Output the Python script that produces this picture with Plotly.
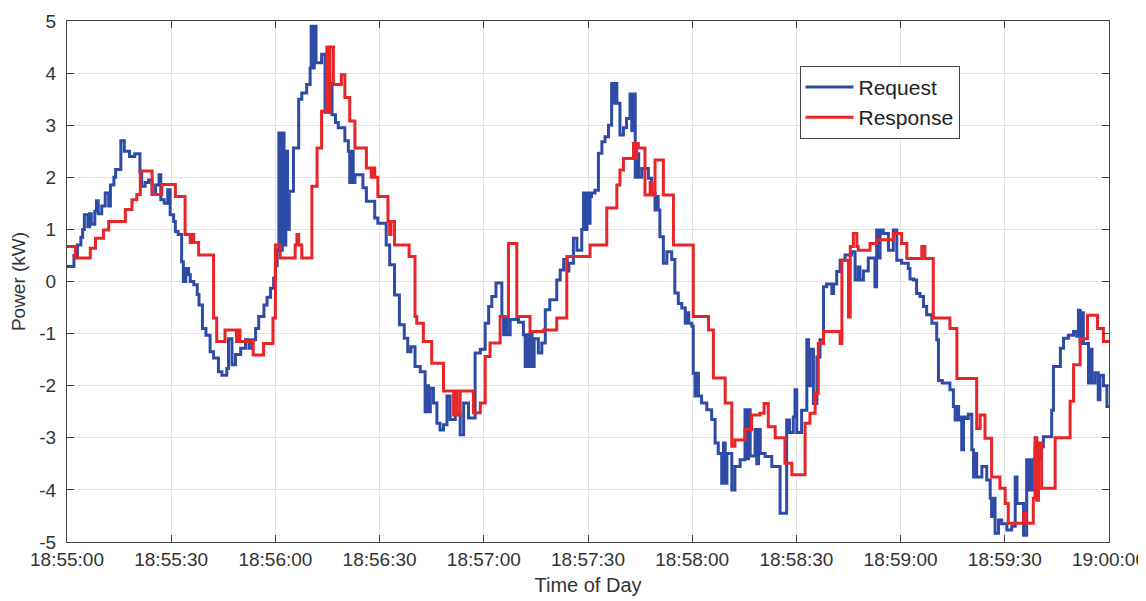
import pandas as pd
import plotly.graph_objects as go

# seconds after 18:55:00 and power (kW), step series
request_t = [0, 2, 3, 4, 4.5, 5, 6, 6.5, 7, 8, 8.5, 9, 10, 11, 12, 12.5, 13.5, 14, 15.5, 16.5, 18, 19.5,
             21, 21.5, 22.5, 23.5, 24.5, 25.5, 26.5, 27, 28, 29, 29.7, 30.7, 31.2, 32, 33, 33.5, 34.2, 35,
             35.5, 36.5, 37.5, 38, 39, 40, 41.2, 42.2, 43.6, 44.6, 46, 46.5, 47.5, 48.5,
             50, 51.4, 52.4, 53.3, 54.3, 55.2, 56.7, 57.6, 58.6, 59.5, 60, 60.5, 61, 61.5, 62, 62.5, 63,
             63.5, 64, 65.2, 66.7, 67.6, 69, 70, 70.3, 70.8, 71.2, 71.7, 73.3, 74.3, 74.8, 75.3, 75.8,
             76.3, 77.3, 78.1, 80, 81, 81.4, 81.9, 82.4, 82.9, 85.2, 86.2, 88.6, 89.5, 91.9, 92.9, 94.3,
             95.7, 97.1, 98.1,
             99, 100.2, 101.7, 103.1, 103.6, 104.1, 104.6, 105.5, 106.5, 107.4, 108.4, 109.4, 110.3,
             111.8, 113.2, 114.2, 115.6, 117.5, 119, 120.4, 121.4, 122.3, 123.5, 125.2, 125.7, 126.2,
             126.7, 127.6, 130, 131.4, 131.9, 132.4, 132.9, 133.4, 133.9, 134.5, 135.7, 136.7, 137.7,
             139, 141, 142, 143, 144, 144.5, 145.8, 146.8, 148.2, 148.7, 149.2, 149.7, 150.2, 150.6,
             151, 152, 153, 154, 154.9, 155.9, 156.8, 157.3, 157.8, 158.3, 159.2, 160.2, 161.1, 162.1,
             162.6, 163.1, 163.6, 164.1, 164.6, 165.5, 167.4, 168.3, 169.3, 169.8, 170.2, 170.7, 171.7,
             172.7, 174.1, 175, 176, 177, 178, 178.5, 179, 179.9, 180.3, 180.8, 181.3, 181.8, 182.7,
             184.2, 185.6, 186.6, 187.5, 188.5, 189, 189.5, 190, 191.4, 192.3, 193.8, 195.2, 195.7,
             196.2, 196.7, 198.1, 198.6, 199.1, 199.6,
             201, 202.9, 205.3, 207.2, 208, 209.1, 209.6, 210.1, 211.5, 213, 213.5, 214, 214.9, 215.9,
             216.8, 217.8, 218.7, 220.2, 220.7, 221.6, 222.6, 224, 225.9, 226.9, 227.8, 228.3, 229.3,
             230.7, 232.6, 233.1, 233.6, 234.1, 235, 236.5, 237.9, 238.9, 240.3, 242.2, 242.7, 243.7,
             244.6, 245.6, 246.6, 247.5, 249, 250.4, 250.9,
             252, 254.2, 255.2, 255.7, 256.2, 256.7, 257.1, 257.6, 258.1, 258.6, 259.5, 260.5, 261,
             261.4, 261.9, 263.4, 264.8, 265.8, 266.2, 266.7, 267.2, 268.2, 269.1, 270.6, 272, 273,
             273.5, 274.4, 275.4, 276.3, 276.8, 277.3, 277.8, 278.7, 279.7, 280.2, 281.1, 283.5, 284,
             286, 286.9, 288.3, 289.8, 290.7, 291.2, 291.7, 292.2, 292.6, 294.1, 294.6, 295.1, 296,
             296.9, 297.4, 298.4, 299.4, 300]
request_kw = [0.29, 0.5, 0.7, 0.85, 1.0, 1.28, 1.05, 1.3, 1.1, 1.35, 1.55, 1.3, 1.45, 1.7, 1.45, 1.85, 2.0,
              2.15, 2.7, 2.5, 2.4, 2.45, 2.1, 1.83, 1.9, 1.95, 1.67, 1.85, 2.05, 1.57, 1.5, 1.76, 1.28,
              1.15, 0.96, 0.9, 0.38, 0.0, 0.25, 0.13, 0.0, -0.06, -0.25, -0.45, -0.9, -1.03, -1.35, -1.47,
              -1.73, -1.8, -1.67, -1.1, -1.6, -1.4,
              -1.28, -1.12, -1.28, -1.12, -0.9, -0.67, -0.45, -0.3, -0.13, 0.06, 0.3, 0.6, 2.85, 0.6, 2.85,
              0.7, 2.5, 1.0, 1.73, 2.56, 3.5, 3.62, 3.78, 4.1, 4.9, 4.1, 4.9, 4.2, 4.36, 3.25, 3.8, 3.25,
              3.8, 3.2, 3.05, 2.95, 2.7, 2.5, 1.9, 2.5, 1.9, 2.05, 1.8, 1.54, 1.22, 1.12, 0.7, 0.32, -0.26,
              -0.83, -1.09, -1.35,
              -1.25, -1.63, -1.73, -2.5, -2.0, -2.5, -2.05, -2.33, -2.72, -2.85, -2.75, -2.2, -2.65, -2.52,
              -2.94, -2.33, -2.62, -1.37, -1.3, -0.8, -0.48, -0.29, -0.03, -0.67, -1.02, -0.67, -1.02,
              -0.73, -0.78, -1.02, -1.63, -1.02, -1.63, -1.0, -1.63, -1.1, -1.37, -1.18, -0.54, -0.35,
              0.03, 0.22, 0.42, 0.2, 0.35, 0.83, 0.6, 1.0, 1.7, 1.0, 1.7, 1.12, 1.63,
              1.7, 1.75, 2.46, 2.68, 2.78, 3.0, 3.8, 3.42, 3.8, 3.42, 2.81, 2.95, 3.13, 3.6, 2.9, 3.6, 2.0,
              2.45, 2.0, 2.17, 1.98, 1.7, 1.37, 1.63, 1.37, 0.86, 0.35, 0.57, 0.42, -0.22, -0.42, -0.51,
              -0.8, -0.6, -0.8, -0.86, -1.76, -2.2, -1.76, -2.2, -2.33, -2.46, -2.65, -3.1, -3.3, -3.87,
              -3.1, -3.87, -3.3, -4.0, -3.55, -3.42, -2.46, -3.4, -2.46, -3.35, -2.84, -3.5, -2.84, -3.3,
              -3.36, -3.55, -4.45, -2.66, -2.9, -2.6, -2.08, -2.9, -2.47, -1.12, -2.0, -1.3, -2.34, -1.45,
              -1.12, -0.1, -0.05, -0.23, -0.05, 0.19, 0.41, 0.51, 0.57, 0.03, 0.28, 0.03, 0.2, 0.45, -0.1,
              0.99, 0.45, 0.99, 0.92, 0.6, 0.99, 0.41, 0.35, 0.25, 0.05, 0.03, -0.23, -0.29, -0.48, -0.64,
              -0.8, -1.12, -1.9,
              -1.95, -2.08, -2.4, -2.66, -2.4, -2.66, -2.6, -3.23, -2.6, -2.63, -2.55, -3.23, -3.75, -3.3,
              -3.75, -3.55, -3.81, -4.16, -4.51, -4.16, -4.83, -4.58, -4.65, -4.77, -4.7, -3.75, -4.26,
              -4.26, -4.87, -3.42, -4.0, -3.42, -4.0, -3.17, -3.4, -3.17, -2.98, -2.47, -1.63, -1.28,
              -1.09, -1.03, -0.96, -1.05, -0.55, -1.19, -0.6, -1.19, -1.95, -1.3, -1.95, -1.75, -2.27,
              -1.8, -2.0, -2.4, -2.4]

response_t = [0, 2.4, 6.7, 8.2, 10.5, 12, 16.8, 18.7, 20.1, 21.1, 24.5, 27.3, 31.2, 34.0, 35.5, 36, 36.5,
              37.9, 42.2, 43.1, 45.5, 48.8, 49.3, 49.8, 53.6, 56.6, 59.3, 60, 61.4, 65.7, 66.2, 66.7,
              67.6, 70.5, 72, 73.3, 74.8, 75.3, 75.7, 76.7, 79, 80, 81.4, 82.9, 86.2, 87.6, 88.1, 88.6,
              89.5, 92.4, 92.9, 93.3, 94.3, 98.5, 100.2, 100.7, 102.6, 105, 108.4, 111.3, 111.8, 112.3,
              113.2, 117, 119, 120.4, 121.8, 124.7, 127.1, 129.5, 133.3, 137.2, 141, 143.9, 150.6,
              155.4, 158.3, 159.2, 160.2, 163.1, 163.6, 164, 164.5, 166.4, 167.9, 168.4, 169.3, 171.7,
              174.6, 180.3, 184.7, 186.1, 189.5, 191.4, 192.3, 195.2, 197.1, 199.5, 200.7, 201.9,
              203.9, 206.7, 208.7, 212.5, 213.9, 215.4, 216.3, 217.8, 222.6, 223.1, 225, 225.5, 226.4,
              227.4, 227.8, 231.2, 233.1, 237.9, 240.3, 241.8, 246.1, 247, 249.4, 254.2, 256.2, 261.9,
              262.9, 264.3, 266.2, 268.6, 270.1, 271, 275.4, 276, 278.2, 278.7, 279.2, 279.7, 280.6,
              284.5, 288.8, 289.8, 291.7, 293.8, 296.7, 298.4, 300]
response_kw = [0.67, 0.45, 0.64, 0.83, 0.99, 1.15, 1.38, 1.57, 1.67, 2.12, 1.67, 1.86, 1.63, 0.9, 0.75, 0.9,
               0.75, 0.51, -0.7, -1.15, -0.93, -1.15, -0.93, -1.15, -1.41, -1.19, -0.7, 0.7, 0.45, 0.7,
               0.9, 0.7, 0.45, 1.83, 2.56, 3.27, 4.5, 3.27, 4.5, 3.78, 3.97, 3.53, 3.08, 2.56, 2.18, 2.0,
               2.18, 2.0, 1.63, 1.15, 0.9, 1.15, 0.7, 0.48, -0.67, -0.8, -1.15, -1.57, -2.1, -2.56, -2.1,
               -2.56, -2.1, -2.52, -2.33, -1.44, -1.18, -0.67, 0.73, -0.67, -0.96, -0.93, -0.7, 0.48,
               0.7, 1.41, 1.85, 2.14, 2.36, 2.65, 2.36, 2.65, 2.56, 1.66, 1.9, 1.66, 2.33, 1.66, 0.7,
               -0.67, -0.93, -1.85, -2.33, -3.16, -3.04, -2.84, -2.56, -2.53, -2.34, -2.79, -3.0, -3.49,
               -3.71, -2.72, -2.53, -2.15, -1.19, -0.96, -1.19, 0.41, -0.68, 0.67, 0.92, 0.67, 0.6,
               0.73, 0.8, 0.92, 0.73, 0.44, 0.67, 0.44, -0.7, -0.9, -1.86, -2.82, -2.56, -3.01, -3.75,
               -3.97, -4.26, -4.64, -4.45, -4.64, -4.16, -3.0, -4.2, -3.1, -3.97, -3.0, -2.3, -1.6, -1.1,
               -0.65, -0.9, -1.15, -1.15]

y_ticks = [-5, -4, -3, -2, -1, 0, 1, 2, 3, 4, 5]
y_tick_labels = ["-5", "-4", "-3", "-2", "-1", "0", "1", "2", "3", "4", "5"]

base = pd.Timestamp("2000-01-01 18:55:00")
x_req = base + pd.to_timedelta(request_t, unit="s")
x_resp = base + pd.to_timedelta(response_t, unit="s")

FONT = "Liberation Sans, Arial, sans-serif"
fig = go.Figure()
fig.add_trace(go.Scatter(x=x_req, y=request_kw, mode="lines", name="Request",
                         line=dict(color="#2E4CA6", width=3, shape="hv")))
fig.add_trace(go.Scatter(x=x_resp, y=response_kw, mode="lines", name="Response",
                         line=dict(color="#E8262A", width=3, shape="hv")))

axis_common = dict(showline=True, linecolor="#444444", linewidth=1.2, mirror="ticks",
                   ticks="inside", ticklen=7, tickcolor="#444444", showgrid=True,
                   gridcolor="#E3E3E3", gridwidth=1, zeroline=False, automargin=False,
                   tickfont=dict(family=FONT, size=19, color="#333333"))
fig.update_xaxes(type="date", range=[base, base + pd.Timedelta(seconds=300)],
                 tick0=base, dtick=30000, tickformat="%H:%M:%S",
                 title=dict(text="Time of Day", font=dict(family=FONT, size=20, color="#333333"),
                            standoff=9),
                 **axis_common)
fig.update_yaxes(range=[-5, 5], tickvals=y_ticks, ticktext=y_tick_labels, ticklabelstandoff=6,
                 title=dict(text="Power (kW)", font=dict(family=FONT, size=19, color="#333333"),
                            standoff=9),
                 **axis_common)
fig.update_layout(width=1146, height=601, margin=dict(l=59, r=45, t=13, b=67),
                  paper_bgcolor="white", plot_bgcolor="white",
                  legend=dict(x=0.703, y=0.914, xanchor="left", yanchor="top",
                              bordercolor="#444444", borderwidth=1, bgcolor="white",
                              font=dict(family=FONT, size=21, color="#222222"),
                              tracegroupgap=0, itemwidth=48))
fig.write_html("out.html")
